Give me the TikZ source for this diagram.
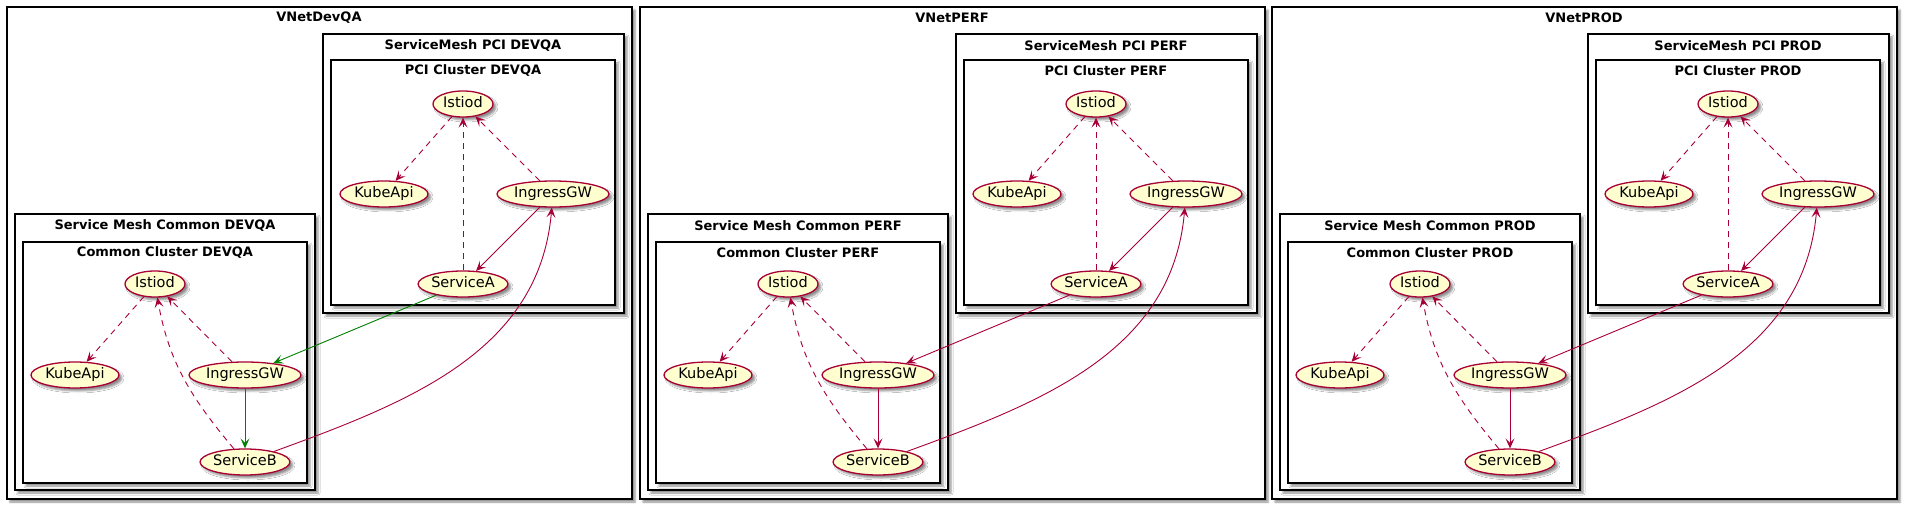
\documentclass[tikz,border=0pt]{standalone}
\usepackage{fontspec}
\setmainfont{DejaVu Sans}
\usetikzlibrary{shapes.geometric,arrows.meta,shadows.blur}
\definecolor{umlred}{HTML}{A80036}
\definecolor{umlfill}{HTML}{FEFECE}
\definecolor{flowgreen}{HTML}{008000}
\begin{document}
\begin{tikzpicture}[x=1pt,y=-1pt,
  shade/.style={blur shadow={shadow xshift=3pt,shadow yshift=-3pt,shadow blur radius=2pt,shadow opacity=45}},
  frame/.style={draw=black,line width=1.5pt,fill=white,shade},
  ttl/.style={font=\bfseries\fontsize{13}{15}\selectfont,inner sep=0pt},
  uc/.style={ellipse,draw=umlred,fill=umlfill,line width=1.3pt,minimum height=26pt,inner sep=0pt,
    text height=10.5pt,text depth=3pt,font=\fontsize{14.5}{17}\selectfont,shade},
  w60/.style={minimum width=60pt},
  w88/.style={minimum width=88pt},
  w112/.style={minimum width=112pt},
  arr/.style={-{Stealth[length=10pt,width=9pt,inset=4.5pt]},line width=0.9pt},
  dep/.style={arr,draw=umlred,dash pattern=on 6pt off 5pt},
  flow/.style={arr,draw=umlred}]
\useasboundingbox (0,0) rectangle (1906,510);
\foreach \ox/\env/\vnet/\fc [count=\i] in {7/DEVQA/VNetDevQA/flowgreen,640/PERF/VNetPERF/umlred,1272/PROD/VNetPROD/umlred}{
  \begin{scope}[xshift=\ox pt]
    \path[frame] (0,7) rectangle (625,499);
    \node[ttl] (vnet\i) at (312,18) {\vnet};
    \path[frame] (316,34) rectangle (617,313);
    \node[ttl] (smp\i) at (466,45.5) {ServiceMesh PCI \env};
    \path[frame] (324,60) rectangle (608,305);
    \node[ttl] (pcc\i) at (466,71) {PCI Cluster \env};
    \path[frame] (8,214) rectangle (308,490);
    \node[ttl] (smc\i) at (158,225.5) {Service Mesh Common \env};
    \path[frame] (16,242) rectangle (300,483);
    \node[ttl] (cc\i) at (158,253) {Common Cluster \env};
    % PCI cluster
    \node[uc,w60] (istp\i) at (456,104) {Istiod};
    \node[uc,w88] (kubep\i) at (377,194) {KubeApi};
    \node[uc,w112] (ingp\i) at (546,194) {IngressGW};
    \node[uc,w88] (sva\i) at (456,284) {ServiceA};
    % Common cluster
    \node[uc,w60] (istc\i) at (148,284) {Istiod};
    \node[uc,w88] (kubec\i) at (68,375) {KubeApi};
    \node[uc,w112] (ingc\i) at (238,375) {IngressGW};
    \node[uc,w88] (svb\i) at (238,462) {ServiceB};
  \end{scope}
  \draw[dep] (istp\i) -- (kubep\i);
  \draw[dep] (ingp\i) -- (istp\i);
  \draw[dep] (sva\i) -- (istp\i);
  \draw[flow] (ingp\i) -- (sva\i);
  \draw[dep] (istc\i) -- (kubec\i);
  \draw[dep] (ingc\i) -- (istc\i);
  \draw[dep] (svb\i) to[out=130,in=-80] (istc\i);
  \draw[arr,draw=\fc] (ingc\i) -- (svb\i);
  \draw[arr,draw=\fc] (sva\i) -- (ingc\i);
  \draw[flow] (svb\i) to[out=20,in=-95] (ingp\i);
}
\end{tikzpicture}
\end{document}
